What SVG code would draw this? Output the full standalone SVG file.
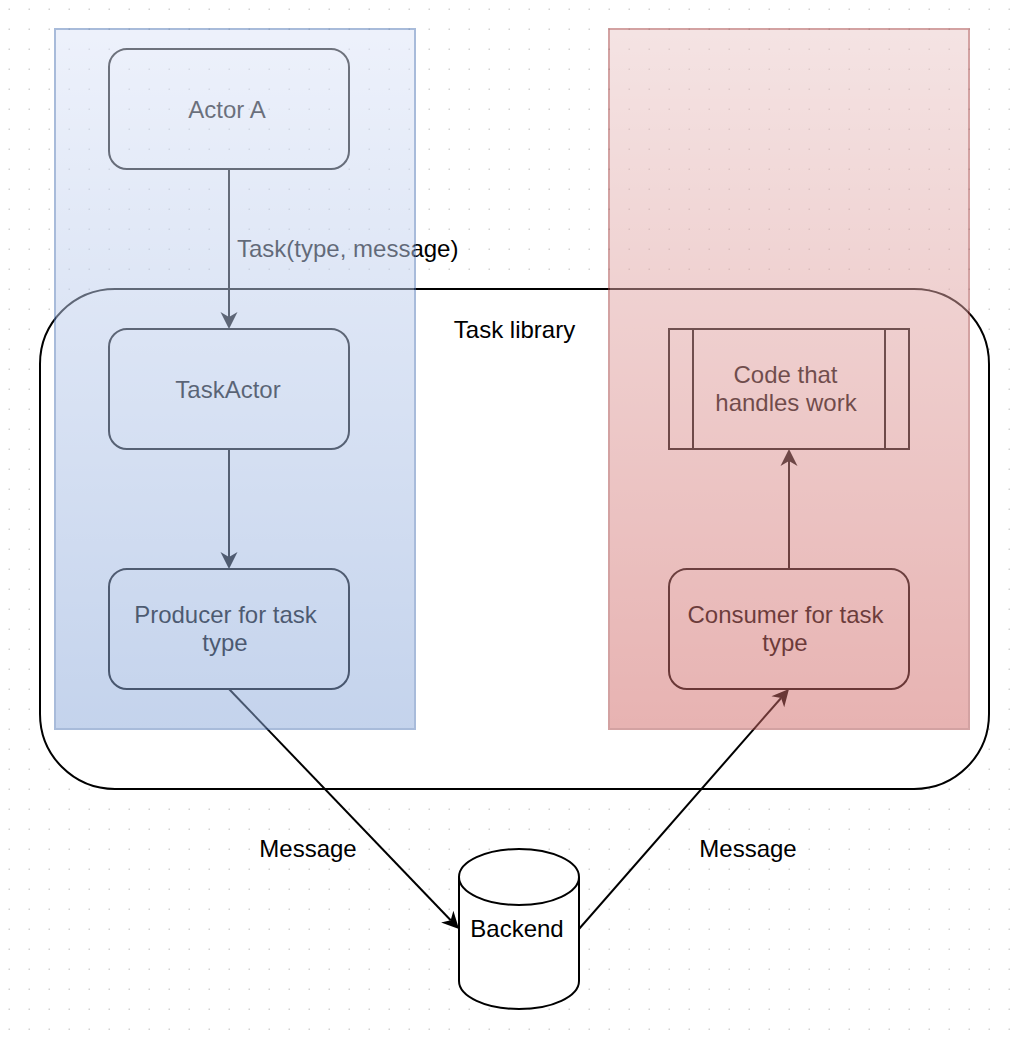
<svg xmlns="http://www.w3.org/2000/svg" width="1024" height="1040" viewBox="0 0 1024 1040">
<defs>
  <pattern id="grid" x="0" y="0" width="20" height="20" patternUnits="userSpaceOnUse">
    <rect x="8.5" y="8.5" width="1.5" height="1.5" fill="#d2d2d2"/>
  </pattern>
  <linearGradient id="blueGrad" x1="0" y1="0" x2="0" y2="1">
    <stop offset="0" stop-color="#dde5f9"/>
    <stop offset="1" stop-color="#8ba9db"/>
  </linearGradient>
  <linearGradient id="redGrad" x1="0" y1="0" x2="0" y2="1">
    <stop offset="0" stop-color="#ebc9c9"/>
    <stop offset="1" stop-color="#d16967"/>
  </linearGradient>
  <marker id="arr" markerUnits="userSpaceOnUse" markerWidth="20" markerHeight="20" viewBox="-1 -10 20 20" refX="5" refY="0" orient="auto">
    <path d="M17,0 L0,-8.5 L5,0 L0,8.5 Z" fill="#000000"/>
  </marker>
  <style>
    text { font-family: "Liberation Sans", Arial, Helvetica, sans-serif; font-size: 24px; fill: #000000; }
    .c { text-anchor: middle; }
    .node { fill: none; stroke: #000000; stroke-width: 2; }
    .edge { fill: none; stroke: #000000; stroke-width: 2; marker-end: url(#arr); }
    .plain { fill: none; stroke: #000000; stroke-width: 2; }
  </style>
</defs>

<rect x="0" y="0" width="1024" height="1040" fill="#ffffff"/>
<rect x="0" y="0" width="1024" height="1040" fill="url(#grid)"/>

<g id="task-library">
  <rect x="40" y="289" width="949" height="500" rx="75" ry="75" fill="#ffffff" stroke="#000000" stroke-width="2"/>
  <text class="c" x="514.5" y="338">Task library</text>
</g>

<g id="actor-a">
  <rect class="node" x="109" y="49" width="240" height="120" rx="18" ry="18"/>
  <text class="c" x="227" y="117.5">Actor A</text>
</g>

<g id="task-actor">
  <rect class="node" x="109" y="329" width="240" height="120" rx="18" ry="18"/>
  <text class="c" x="228" y="397.5">TaskActor</text>
</g>

<g id="producer">
  <rect class="node" x="109" y="569" width="240" height="120" rx="18" ry="18"/>
  <text class="c" x="225.5" y="623">Producer for task</text>
  <text class="c" x="225" y="651">type</text>
</g>

<g id="code-handles-work">
  <rect class="node" x="669" y="329" width="240" height="120"/>
  <line class="plain" x1="693" y1="329" x2="693" y2="449"/>
  <line class="plain" x1="885" y1="329" x2="885" y2="449"/>
  <text class="c" x="785.5" y="382.5">Code that</text>
  <text class="c" x="786" y="410.5">handles work</text>
</g>

<g id="consumer">
  <rect class="node" x="669" y="569" width="240" height="120" rx="18" ry="18"/>
  <text class="c" x="785.5" y="623">Consumer for task</text>
  <text class="c" x="785" y="651">type</text>
</g>

<g id="backend">
  <path d="M459,877 A60,28 0 0 1 579,877 L579,981 A60,28 0 0 1 459,981 Z" fill="#ffffff" stroke="#000000" stroke-width="2"/>
  <path d="M459,877 A60,28 0 0 0 579,877" fill="none" stroke="#000000" stroke-width="2"/>
  <text class="c" x="517" y="937">Backend</text>
</g>

<g id="connectors">
  <line class="edge" x1="229" y1="169" x2="229" y2="317"/>
  <text x="237" y="257">Task(type, message)</text>
  <line class="edge" x1="229" y1="449" x2="229" y2="557"/>
  <line class="edge" x1="789" y1="569" x2="789" y2="461"/>
  <line class="edge" x1="229" y1="689" x2="450.7" y2="920.3"/>
  <text class="c" x="308" y="857">Message</text>
  <line class="edge" x1="579" y1="929" x2="781.1" y2="698"/>
  <text class="c" x="748" y="857">Message</text>
</g>

<g id="blue-lane" opacity="0.5">
  <rect x="55" y="29" width="360" height="700" fill="url(#blueGrad)" stroke="#5379b7" stroke-width="2"/>
</g>

<g id="red-lane" opacity="0.5">
  <rect x="609" y="29" width="360" height="700" fill="url(#redGrad)" stroke="#a84848" stroke-width="2"/>
</g>
</svg>
